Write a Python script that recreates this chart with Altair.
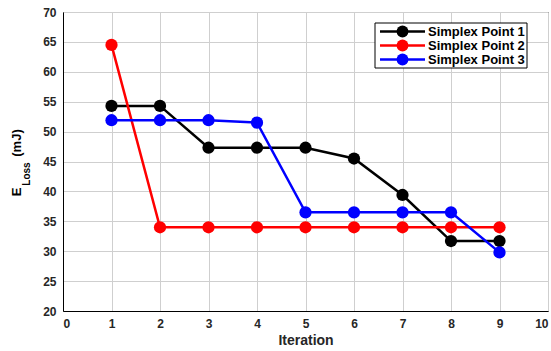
import altair as alt
import pandas as pd

# Loss per iteration for each simplex vertex
iterations = [1, 2, 3, 4, 5, 6, 7, 8, 9]
point1 = [54.3, 54.3, 47.3, 47.3, 47.3, 45.5, 39.4, 31.7, 31.7]
point2 = [64.5, 34.0, 34.0, 34.0, 34.0, 34.0, 34.0, 34.0, 34.0]
point3 = [51.9, 51.9, 51.9, 51.5, 36.5, 36.5, 36.5, 36.5, 29.8]
series_names = ["Simplex Point 1", "Simplex Point 2", "Simplex Point 3"]
series_colors = ["#000000", "#ff0000", "#0000ff"]

rows = []
for name, vals in zip(series_names, [point1, point2, point3]):
    for it, v in zip(iterations, vals):
        rows.append({"Iteration": it, "Loss": v, "Series": name})
df = pd.DataFrame(rows)

FONT = "Liberation Sans"
W, H = 485, 299

color = alt.Color(
    "Series:N",
    scale=alt.Scale(domain=series_names, range=series_colors),
    legend=None,
)
x = alt.X(
    "Iteration:Q",
    scale=alt.Scale(domain=[0, 10], nice=False),
    axis=alt.Axis(values=list(range(0, 11)), title="Iteration", format="d"),
)
y = alt.Y(
    "Loss:Q",
    scale=alt.Scale(domain=[20, 70], nice=False),
    axis=alt.Axis(values=list(range(20, 71, 5)), title=None, format="d"),
)

layers = []
# one line + markers per series, drawn in series order
for name in series_names:
    sub = df[df["Series"] == name]
    base = alt.Chart(sub)
    layers.append(base.mark_line(strokeWidth=2.5).encode(x=x, y=y, color=color, order="Iteration:Q"))
    layers.append(base.mark_circle(size=150, opacity=1).encode(x=x, y=y, color=color))

# legend box in the top-right corner of the plot
legend_box = alt.Chart(pd.DataFrame({"k": [0]})).mark_rect(
    fill="white", stroke="#000", strokeWidth=1
).encode(x=alt.value(312), x2=alt.value(464), y=alt.value(11), y2=alt.value(56))
layers.append(legend_box)
for i, (name, col) in enumerate(zip(series_names, series_colors)):
    ry = 19.5 + 14 * i
    one = alt.Chart(pd.DataFrame({"Series": [name]}))
    layers.append(one.mark_rule(color=col, strokeWidth=2.5).encode(
        x=alt.value(317), x2=alt.value(362), y=alt.value(ry)))
    layers.append(one.mark_circle(color=col, size=140, opacity=1).encode(
        x=alt.value(339.5), y=alt.value(ry)))
    layers.append(one.mark_text(
        font=FONT, fontSize=13, fontWeight="bold", align="left", baseline="middle", color="#000"
    ).encode(text="Series:N", x=alt.value(365), y=alt.value(ry + 0.5)))

# rotated y-axis title with subscript
def rotated(txt, size, px, py):
    return alt.Chart(pd.DataFrame({"t": [txt]})).mark_text(
        angle=270, font=FONT, fontSize=size, fontWeight="bold",
        align="center", baseline="middle", color="#000"
    ).encode(text="t:N", x=alt.value(px), y=alt.value(py))

layers.append(rotated("E", 13, -46, 180))
layers.append(rotated("Loss", 10, -36, 162))
layers.append(rotated("(mJ)", 13, -46, 131))

chart = alt.layer(*layers).properties(
    width=W, height=H,
    autosize=alt.AutoSizeParams(type="none"),
    padding={"left": 63, "top": 12, "right": 3, "bottom": 40},
    background="white",
).configure_view(
    stroke="#000", strokeWidth=1,
).configure_axis(
    labelFont=FONT, labelFontWeight="bold", labelFontSize=12, labelColor="#262626",
    titleFont=FONT, titleFontWeight="bold", titleFontSize=14, titleColor="#262626",
    gridColor="#cfcfcf", gridWidth=1, domainColor="#000",
    ticks=False,
).configure_axisX(
    labelPadding=7, titlePadding=4,
).configure_axisY(
    labelPadding=7,
)

chart.save("out.html", embed_options={"renderer": "svg", "actions": False})
